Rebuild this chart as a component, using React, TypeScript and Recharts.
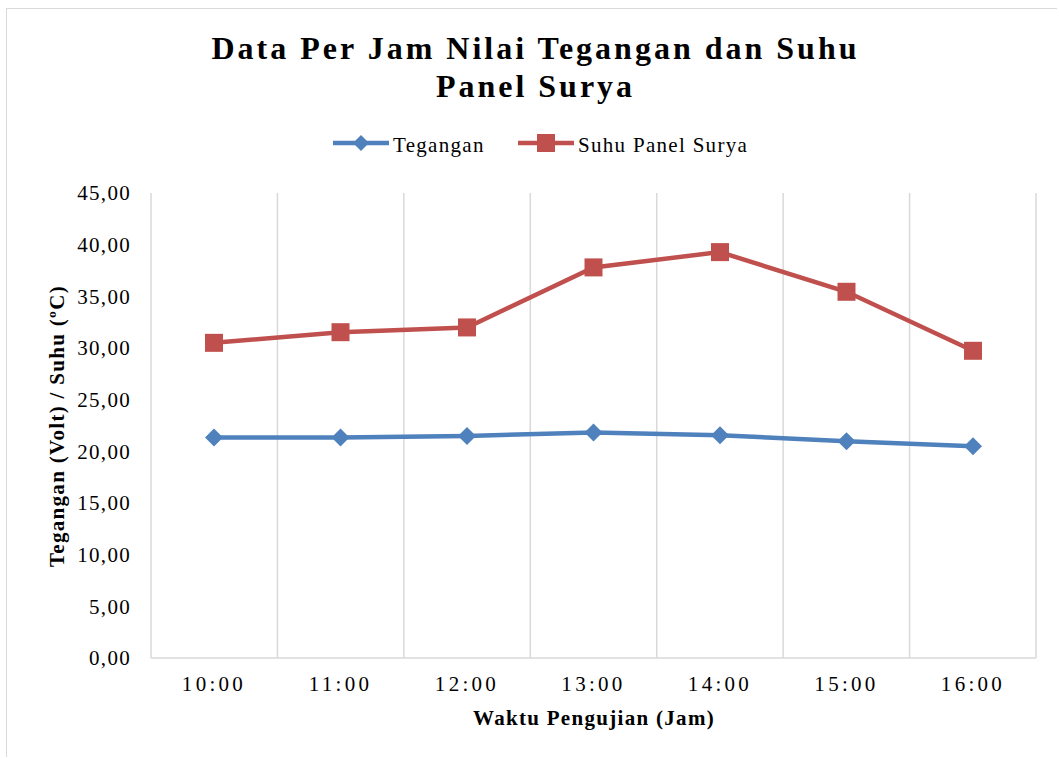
import { LineChart, Line, XAxis, YAxis, CartesianGrid } from 'recharts';

const hours = ['10:00', '11:00', '12:00', '13:00', '14:00', '15:00', '16:00'];
const tegangan = [21.33, 21.33, 21.49, 21.82, 21.56, 20.97, 20.49];
const suhu = [30.5, 31.53, 31.99, 37.8, 39.28, 35.44, 29.73];
const yTicks = [0, 5, 10, 15, 20, 25, 30, 35, 40, 45];

const BLUE = '#4F81BD';
const RED = '#C0504D';
const GRID = '#d9d9d9';
const FONT = '"Liberation Serif", "Times New Roman", serif';

const data = hours.map((jam, i) => ({ jam, tegangan: tegangan[i], suhu: suhu[i] }));

const fmt = (v: number) => v.toFixed(2).replace('.', ',');

const Diamond = (props: any) => {
  const { cx, cy, index } = props;
  if (cx == null || cy == null) return null;
  const r = 9;
  return (
    <path
      key={`dia-${index}`}
      d={`M${cx},${cy - r} L${cx + r},${cy} L${cx},${cy + r} L${cx - r},${cy} Z`}
      fill={BLUE}
    />
  );
};

const Square = (props: any) => {
  const { cx, cy, index } = props;
  if (cx == null || cy == null) return null;
  return <rect key={`sq-${index}`} x={cx - 9} y={cy - 9} width={18} height={18} fill={RED} />;
};

function LegendItem({ left, color, label, square }: { left: number; color: string; label: string; square?: boolean }) {
  return (
    <>
      <svg width={56} height={20} style={{ position: 'absolute', left, top: 133 }}>
        <line x1={0} y1={10} x2={56} y2={10} stroke={color} strokeWidth={4.5} strokeLinecap="round" />
        {square
          ? <rect x={19} y={1} width={18} height={18} fill={color} />
          : <path d="M28,2 L36,10 L28,18 L20,10 Z" fill={color} />}
      </svg>
      <div style={{ position: 'absolute', left: left + 60, top: 135, lineHeight: '20px', fontSize: 21, letterSpacing: 1.3, whiteSpace: 'nowrap' }}>
        {label}
      </div>
    </>
  );
}

export default function App() {
  return (
    <div style={{ position: 'absolute', left: 0, top: 0, width: 1059, height: 758, background: '#fff', fontFamily: FONT, color: '#000', overflow: 'hidden' }}>
      <div style={{ position: 'absolute', left: 6, top: 8, width: 1050, height: 748, borderLeft: `1.5px solid ${GRID}`, borderTop: `1.5px solid ${GRID}` }} />

      <div style={{ position: 'absolute', left: 0, top: 29, width: 1059, paddingLeft: 12, boxSizing: 'border-box', textAlign: 'center', fontSize: 32, fontWeight: 'bold', letterSpacing: 3, lineHeight: '38px' }}>
        Data Per Jam Nilai Tegangan dan Suhu<br />Panel Surya
      </div>

      <LegendItem left={333} color={BLUE} label="Tegangan" />
      <LegendItem left={518} color={RED} label="Suhu Panel Surya" square />

      <LineChart
        width={1059}
        height={758}
        data={data}
        margin={{ top: 193, right: 23, bottom: 0, left: 0 }}
        style={{ position: 'absolute', left: 0, top: 0 }}
      >
        <CartesianGrid
          horizontal={false}
          stroke={GRID}
          strokeWidth={1.5}
          verticalCoordinatesGenerator={({ offset }: any) =>
            Array.from({ length: hours.length + 1 }, (_, i) => offset.left + (i * offset.width) / hours.length)
          }
        />
        <XAxis
          dataKey="jam"
          height={100}
          interval={0}
          padding={{ left: 63, right: 63 }}
          axisLine={{ stroke: GRID, strokeWidth: 1.5 }}
          tickLine={false}
          tickSize={0}
          tickMargin={18}
          tick={{ fontSize: 21, fill: '#000', fontFamily: FONT, letterSpacing: 3.3 }}
        />
        <YAxis
          width={151}
          domain={[0, 45]}
          ticks={yTicks}
          axisLine={false}
          tickLine={false}
          tickSize={0}
          tickMargin={20}
          tickFormatter={fmt}
          tick={{ fontSize: 21, fill: '#000', fontFamily: FONT, letterSpacing: 1.3 }}
        />
        <Line type="linear" dataKey="tegangan" stroke={BLUE} strokeWidth={4.5} dot={Diamond} activeDot={false} isAnimationActive={false} />
        <Line type="linear" dataKey="suhu" stroke={RED} strokeWidth={4.5} dot={Square} activeDot={false} isAnimationActive={false} />
      </LineChart>

      <div style={{ position: 'absolute', left: 57, top: 426, transform: 'translate(-50%, -50%) rotate(-90deg)', whiteSpace: 'nowrap', fontSize: 21, fontWeight: 'bold', letterSpacing: 1.3, lineHeight: '24px' }}>
        Tegangan (Volt) / Suhu (ºC)
      </div>
      <div style={{ position: 'absolute', left: 594, top: 718, transform: 'translate(-50%, -50%)', whiteSpace: 'nowrap', fontSize: 21, fontWeight: 'bold', letterSpacing: 1.3, lineHeight: '24px' }}>
        Waktu Pengujian (Jam)
      </div>
    </div>
  );
}
